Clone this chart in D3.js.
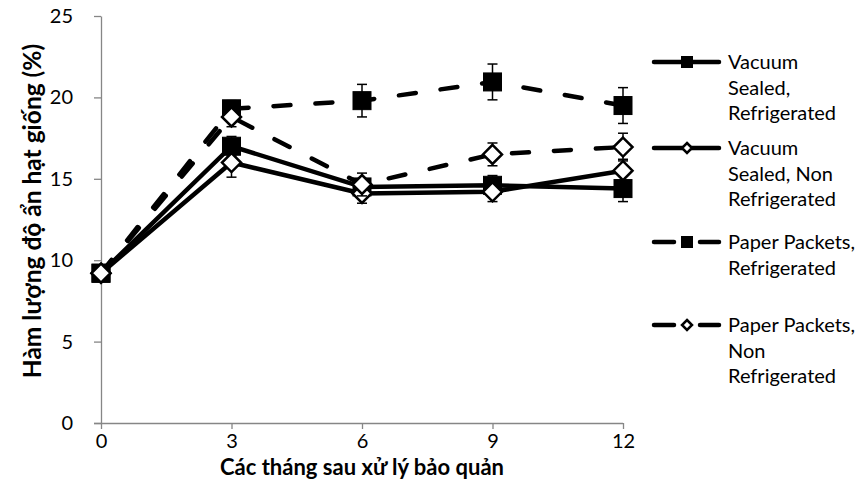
<!DOCTYPE html>
<html><head><meta charset="utf-8">
<script src="https://cdn.jsdelivr.net/npm/d3@7"></script>
<style>body{margin:0;background:#fff}svg{display:block}text{font-family:Lato,"Open Sans",sans-serif;fill:#000}</style>
</head><body><svg id="c" width="857" height="500"></svg>
<script>
const months = [0, 3, 6, 9, 12];
const yTicks = [0, 5, 10, 15, 20, 25];
const seriesNames = [["Vacuum","Sealed,","Refrigerated"],["Vacuum","Sealed, Non","Refrigerated"],["Paper Packets,","Refrigerated"],["Paper Packets,","Non","Refrigerated"]];
const vsR  = [9.2, 17.0, 14.5, 14.6, 14.4];
const vsNR = [9.2, 16.0, 14.1, 14.2, 15.5];
const ppR  = [9.2, 19.3, 19.8, 20.95, 19.5];
const ppNR = [9.2, 18.8, 14.65, 16.5, 16.95];
const vsRErr  = [0, 0.6, 0.4, 0.6, 0.8];
const vsNRErr = [0, 0.9, 0.6, 0.6, 0.7];
const ppRErr  = [0, 0.5, 1.0, 1.1, 1.1];
const ppNRErr = [0, 0.6, 0.7, 0.7, 0.85];

const svg = d3.select("#c");
const x = d3.scaleLinear().domain([0,12]).range([101,623]);
const y = d3.scaleLinear().domain([0,25]).range([423,16]);

const series = [
  {name: seriesNames[0], v: vsR, e: vsRErr, dash: false, marker: "square"},
  {name: seriesNames[1], v: vsNR, e: vsNRErr, dash: false, marker: "diamond"},
  {name: seriesNames[2], v: ppR, e: ppRErr, dash: true, marker: "square"},
  {name: seriesNames[3], v: ppNR, e: ppNRErr, dash: true, marker: "diamond"}
];

// axes
const gx = svg.append("g").attr("transform","translate(0,423)")
  .call(d3.axisBottom(x).tickValues(months).tickSize(6).tickPadding(5).tickSizeOuter(0));
const gy = svg.append("g").attr("transform","translate(101,0)")
  .call(d3.axisLeft(y).tickValues(yTicks).tickSize(7).tickPadding(21).tickSizeOuter(0));
[gx, gy].forEach(g => {
  g.selectAll("path,line").attr("stroke","#868686").attr("stroke-width",1.3);
  g.selectAll("text").style("font-size","20px").attr("fill","#000");
});
gx.select(".domain").attr("d","M94,0.5H623");

svg.append("text").attr("x",362).attr("y",475).attr("text-anchor","middle")
  .style("font-size","22px").style("font-weight","bold").text("Các tháng sau xử lý bảo quản");
svg.append("text").attr("transform","translate(32,211) rotate(-90)").attr("text-anchor","middle").attr("dy","0.35em")
  .style("font-size","24.5px").style("font-weight","bold").text("Hàm lượng độ ẩn hạt giống (%)");

const line = d3.line().x((d,i)=>x(months[i])).y(d=>y(d));
const dashArr = "17,25";

function marker(g, type, cx, cy, s) {
  if (type === "square") {
    g.append("rect").attr("x",cx-s/2).attr("y",cy-s/2).attr("width",s).attr("height",s)
      .attr("fill","#000").attr("stroke","#000").attr("stroke-width",1);
  } else {
    const r = s/2;
    g.append("path").attr("d",`M${cx},${cy-r}L${cx+r},${cy}L${cx},${cy+r}L${cx-r},${cy}Z`)
      .attr("fill","#fff").attr("stroke","#000").attr("stroke-width",2.5);
  }
}

series.forEach(s => {
  svg.append("path").attr("d", line(s.v)).attr("fill","none").attr("stroke","#000")
    .attr("stroke-width",4.5).attr("stroke-linecap","round").attr("stroke-linejoin","round")
    .attr("stroke-dasharray", s.dash ? dashArr : null);
});
series.forEach(s => {
  const g = svg.append("g");
  s.v.forEach((v,i) => {
    if (!s.e[i]) return;
    const cx = x(months[i]);
    g.append("line").attr("x1",cx).attr("x2",cx).attr("y1",y(v+s.e[i])).attr("y2",y(v-s.e[i])).attr("stroke","#000").attr("stroke-width",1.5);
    [v+s.e[i], v-s.e[i]].forEach(t => g.append("line").attr("x1",cx-5).attr("x2",cx+5).attr("y1",y(t)).attr("y2",y(t)).attr("stroke","#000").attr("stroke-width",1.5));
  });
  s.v.forEach((v,i) => marker(g, s.marker, x(months[i]), y(v), s.marker==="square"?18:19));
});

// legend
const legY = [62, 148, 242, 325];
series.forEach((s,k) => {
  const g = svg.append("g");
  const ly = legY[k];
  if (s.dash) {
    g.append("line").attr("x1",654).attr("x2",674).attr("y1",ly).attr("y2",ly).attr("stroke","#000").attr("stroke-width",4.5).attr("stroke-linecap","round");
    g.append("line").attr("x1",700).attr("x2",719).attr("y1",ly).attr("y2",ly).attr("stroke","#000").attr("stroke-width",4.5).attr("stroke-linecap","round");
  } else {
    g.append("line").attr("x1",654).attr("x2",719).attr("y1",ly).attr("y2",ly).attr("stroke","#000").attr("stroke-width",4.5).attr("stroke-linecap","round");
  }
  marker(g, s.marker, 687, ly, s.marker==="square"?11:10);
  s.name.forEach((t,j) => g.append("text").attr("x",728).attr("y",ly+25.5*j).attr("dy","0.35em").style("font-size","20px").text(t));
});
</script></body></html>
